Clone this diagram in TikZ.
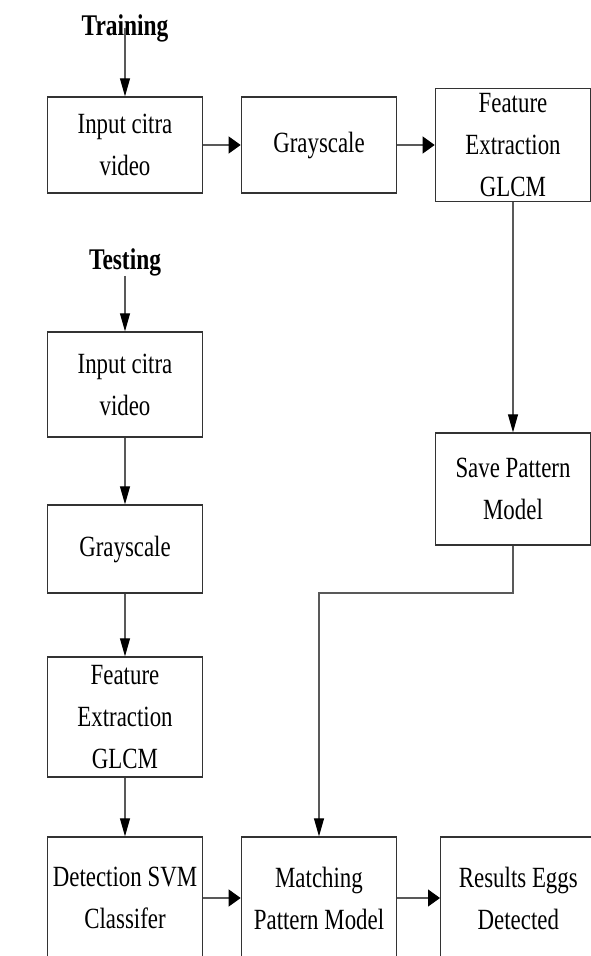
\documentclass[tikz,border=0pt]{standalone}
\usepackage{fontspec}
\setmainfont{Liberation Serif}[FakeStretch=0.78]
\usetikzlibrary{arrows.meta}

\begin{document}
\begin{tikzpicture}[x=0.75pt, y=-0.75pt, node distance=145.5pt,
    box/.style={draw=black!80, line width=1pt, align=center, inner sep=0pt,
      minimum width=116.5pt, font=\fontsize{22}{31.5}\selectfont},
    title/.style={inner sep=0pt, font=\fontsize{22.5}{31.5}\selectfont\bfseries},
    harr/.style={draw=black!65, line width=0.8pt, -{Triangle[length=9pt, width=12.75pt, color=black]}},
    varr/.style={draw=black!65, line width=0.8pt, -{Triangle[length=13.5pt, width=7.5pt, color=black]}}]
    \useasboundingbox (0,0) rectangle (590,956);
    % training
    \node (train) [title] at (125,28) {Training};
    \node (in1) [box, minimum height=72pt] at (125,145) {Input citra\\video};
    \node (gray1) [box, minimum height=72pt, right of=in1] {Grayscale};
    \node (feat1) [box, minimum height=84.75pt, right of=gray1] {Feature\\Extraction\\GLCM};
    \node (save) [box, minimum height=84pt] at (513,489) {Save Pattern\\Model};
    % testing
    \node (test) [title] at (125,262) {Testing};
    \node (in2) [box, minimum height=78.75pt] at (125,384.5) {Input citra\\video};
    \node (gray2) [box, minimum height=66pt] at (125,549) {Grayscale};
    \node (feat2) [box, minimum height=90pt] at (125,717) {Feature\\Extraction\\GLCM};
    \node (det) [box, minimum height=91.5pt] at (125,898) {Detection SVM\\Classifer};
    \node (match) [box, minimum height=91.5pt, right of=det] {Matching\\Pattern Model};
    \node (res) [box, minimum height=91.5pt, right of=match, xshift=4pt] {Results Eggs\\Detected};
    \coordinate (bend) at (513,593);

    \draw[varr] (train.center) -- (in1);
    \draw[harr] (in1) -- (gray1);
    \draw[harr] (gray1) -- (feat1);
    \draw[varr] (feat1) -- (save);
    \draw[varr] (test) -- (in2);
    \draw[varr] (in2) -- (gray2);
    \draw[varr] (gray2) -- (feat2);
    \draw[varr] (feat2) -- (det);
    \draw[harr] (det) -- (match);
    \draw[harr] (match) -- (res);
    \draw[varr] (save) -- (bend) -| (match);
\end{tikzpicture}
\end{document}
